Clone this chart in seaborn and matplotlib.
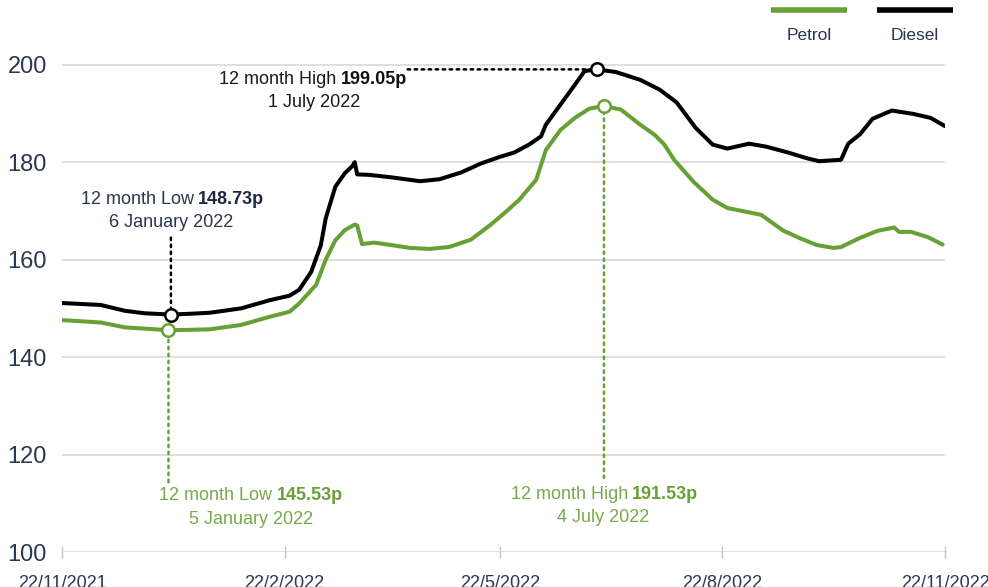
import numpy as np
import pandas as pd
import matplotlib
matplotlib.use("Agg")
import matplotlib.pyplot as plt
import matplotlib.dates as mdates
from matplotlib.lines import Line2D
import seaborn as sns

# ------------------------------
# Data (pence per litre)
# ------------------------------
start = pd.Timestamp("2021-11-22")

diesel_days = [0, 16, 26, 34, 45, 53, 61, 74, 86, 94, 98, 103, 107, 109, 113, 117, 120, 121,
               122, 127, 136, 148, 156, 165, 173, 181, 187, 193, 198, 200, 206, 212, 216, 221,
               229, 239, 247, 254, 262, 269, 275, 284, 291, 300, 308, 313, 322, 325, 330, 335,
               343, 352, 359, 365]
diesel_ppl = [151.1, 150.7, 149.5, 149.0, 148.73, 148.9, 149.1, 150.0, 151.7, 152.6, 153.8, 157.5,
              163.0, 168.5, 175.0, 177.8, 179.2, 180.0, 177.5, 177.4, 176.9, 176.1, 176.5, 177.9,
              179.7, 181.1, 182.0, 183.6, 185.3, 187.7, 191.8, 195.9, 198.7, 199.05, 198.5, 196.9,
              194.9, 192.3, 187.0, 183.6, 182.8, 183.8, 183.2, 182.0, 180.8, 180.2, 180.5, 183.8,
              185.8, 188.9, 190.6, 189.9, 189.1, 187.4]

petrol_days = [0, 16, 26, 44, 53, 61, 74, 86, 94, 98, 105, 109, 113, 117, 121, 122, 124, 129,
               136, 144, 152, 160, 169, 177, 183, 189, 196, 200, 206, 212, 218, 224, 231, 239,
               245, 249, 253, 261, 269, 275, 289, 298, 305, 312, 319, 322, 330, 337, 344, 346,
               351, 358, 364]
petrol_ppl = [147.6, 147.1, 146.1, 145.53, 145.6, 145.7, 146.6, 148.3, 149.3, 151.0, 154.8, 160.0,
              164.0, 166.1, 167.2, 167.0, 163.2, 163.5, 163.0, 162.4, 162.2, 162.6, 164.1, 167.1,
              169.6, 172.3, 176.4, 182.5, 186.6, 189.1, 191.0, 191.53, 190.8, 187.7, 185.6, 183.6,
              180.5, 176.0, 172.3, 170.6, 169.2, 166.0, 164.4, 163.0, 162.4, 162.6, 164.5, 165.9,
              166.6, 165.7, 165.7, 164.6, 163.1]

tick_dates = ["2021-11-22", "2022-02-22", "2022-05-22", "2022-08-22", "2022-11-22"]
tick_labels = ["22/11/2021", "22/2/2022", "22/5/2022", "22/8/2022", "22/11/2022"]
y_ticks = [100, 120, 140, 160, 180, 200]

GREEN = "#67a034"
NAVY = "#2b3650"

diesel_dates = start + pd.to_timedelta(diesel_days, unit="D")
petrol_dates = start + pd.to_timedelta(petrol_days, unit="D")

df = pd.concat([
    pd.DataFrame({"date": petrol_dates, "ppl": petrol_ppl, "fuel": "Petrol"}),
    pd.DataFrame({"date": diesel_dates, "ppl": diesel_ppl, "fuel": "Diesel"}),
], ignore_index=True)

# ------------------------------
# Plot
# ------------------------------
sns.set_theme(style="white")
plt.rcParams["font.family"] = ["Liberation Sans", "DejaVu Sans"]

fig = plt.figure(figsize=(9.88, 5.87), dpi=100)
ax = fig.add_axes([0.0628, 0.0596, 0.8937, 0.8467])

sns.lineplot(data=df, x="date", y="ppl", hue="fuel",
             palette={"Petrol": GREEN, "Diesel": "black"},
             linewidth=2.9, legend=False, ax=ax, zorder=3)

ax.set_xlim(mdates.date2num(pd.Timestamp(tick_dates[0])),
            mdates.date2num(pd.Timestamp(tick_dates[-1])))
ax.set_ylim(100, 202)
ax.set_yticks(y_ticks)
ax.set_yticklabels([str(v) for v in y_ticks], fontsize=17, color=NAVY)
ax.set_xticks([mdates.date2num(pd.Timestamp(d)) for d in tick_dates])
ax.set_xticklabels(tick_labels, fontsize=13, color=NAVY)
ax.set_xlabel("")
ax.set_ylabel("")
ax.grid(axis="y", color="#d9d9d9", linewidth=1.2)
ax.grid(axis="x", visible=False)
for s in ax.spines.values():
    s.set_visible(False)
ax.tick_params(axis="y", left=False, length=0, pad=11)
ax.tick_params(axis="x", bottom=True, direction="inout", length=9, width=1,
               color="#c4c4c4", pad=12)


# ------------------------------
# Annotations for 12 month highs / lows
# ------------------------------
def mark(dates, vals, func, color, regular, bold, date_txt, lead, split, dy1, dx2, dy2,
         reg_col, bold_col):
    i = func(vals)
    x = mdates.date2num(dates[i])
    y = vals[i]
    ax.plot([x], [y], marker="o", ms=9, mfc="white", mec=color, mew=1.8, zorder=5)
    ax.annotate("", xy=(x, y), xytext=lead, textcoords="offset pixels",
                arrowprops=dict(arrowstyle="-", linestyle=(0, (1, 1.8)), color=color,
                                lw=1.8, shrinkA=0, shrinkB=5), zorder=4)
    ax.annotate(regular, xy=(x, y), xytext=(split - 2, dy1), textcoords="offset pixels",
                ha="right", va="center", fontsize=13, color=reg_col)
    ax.annotate(bold, xy=(x, y), xytext=(split + 2, dy1), textcoords="offset pixels",
                ha="left", va="center", fontsize=13, color=bold_col, fontweight="bold")
    ax.annotate(date_txt, xy=(x, y), xytext=(dx2, dy2), textcoords="offset pixels",
                ha="center", va="center", fontsize=13, color=reg_col)


mark(diesel_dates, diesel_ppl, np.argmax, "black", "12 month High", "199.05p", "1 July 2022",
     (-189, 0), -258, -10, -283, -33, "#1a1a1a", "#111111")
mark(diesel_dates, diesel_ppl, np.argmin, "black", "12 month Low", "148.73p", "6 January 2022",
     (0, 77), 25, 115, 0, 92, NAVY, "#1f2940")
mark(petrol_dates, petrol_ppl, np.argmin, GREEN, "12 month Low", "145.53p", "5 January 2022",
     (0, -152), 106, -165, 83, -189, "#78a94a", GREEN)
mark(petrol_dates, petrol_ppl, np.argmax, GREEN, "12 month High", "191.53p", "4 July 2022",
     (0, -372), 26, -388, -1, -411, "#78a94a", GREEN)

# ------------------------------
# Legend (line above label)
# ------------------------------
W, H = 988, 587
for x0, x1, col, name in [(771, 847, GREEN, "Petrol"), (877, 953, "black", "Diesel")]:
    fig.add_artist(Line2D([x0 / W, x1 / W], [1 - 9.5 / H, 1 - 9.5 / H], color=col, lw=4,
                          solid_capstyle="butt"))
    fig.text((x0 + x1) / 2 / W, 1 - 35 / H, name, ha="center", va="center",
             fontsize=12.5, color=NAVY)

fig.savefig("out.png", dpi=100)
